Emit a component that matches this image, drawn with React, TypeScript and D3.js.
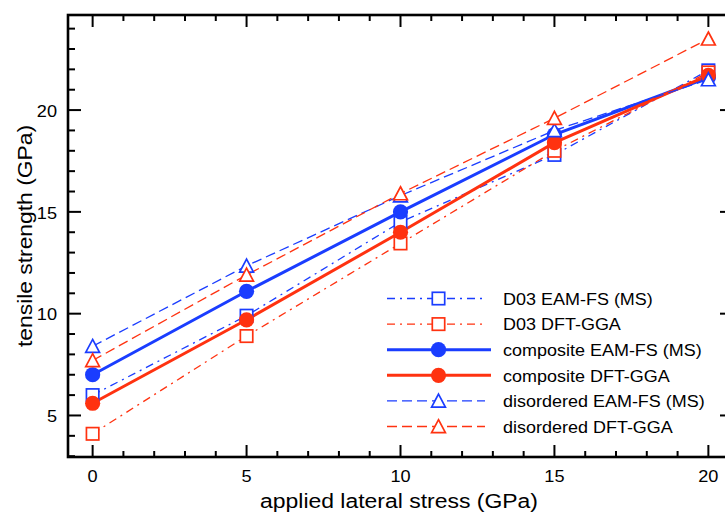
import React from 'react';
import * as d3 from 'd3';

const stress = [0, 5, 10, 15, 20];
const d03Eam = [6.0, 9.9, 14.5, 17.8, 21.95];
const d03Dft = [4.1, 8.9, 13.45, 18.0, 21.85];
const compEam = [7.0, 11.1, 15.0, 18.8, 21.6];
const compDft = [5.6, 9.7, 14.0, 18.4, 21.7];
const disEam = [8.4, 12.35, 15.8, 19.0, 21.5];
const disDft = [7.7, 11.9, 15.9, 19.6, 23.5];
const xTicks = [0, 5, 10, 15, 20];
const yTicks = [5, 10, 15, 20];
const seriesNames = [
  'D03 EAM-FS (MS)',
  'D03 DFT-GGA',
  'composite EAM-FS (MS)',
  'composite DFT-GGA',
  'disordered EAM-FS (MS)',
  'disordered DFT-GGA',
];
const xLabel = 'applied lateral stress (GPa)';
const yLabel = 'tensile strength (GPa)';

const BLUE = '#1a3dff';
const RED = '#ff3210';
const FONT = '"Liberation Sans", Arial, Helvetica, sans-serif';

type Style = { color: string; marker: 'square' | 'circle' | 'triangle'; dash: string; width: number };
const styles: Style[] = [
  { color: BLUE, marker: 'square', dash: '8,5,2,5', width: 1.3 },
  { color: RED, marker: 'square', dash: '8,5,2,5', width: 1.3 },
  { color: BLUE, marker: 'circle', dash: '', width: 3 },
  { color: RED, marker: 'circle', dash: '', width: 3 },
  { color: BLUE, marker: 'triangle', dash: '10,5', width: 1.3 },
  { color: RED, marker: 'triangle', dash: '10,5', width: 1.3 },
];
const allSeries = [d03Eam, d03Dft, compEam, compDft, disEam, disDft];

const L = 68, R = 733, T = 15, B = 457;

function Marker({ x, y, s }: { x: number; y: number; s: Style }) {
  if (s.marker === 'circle') return <circle cx={x} cy={y} r={7.6} fill={s.color} />;
  if (s.marker === 'square')
    return <rect x={x - 6.2} y={y - 6.2} width={12.4} height={12.4} fill="white" stroke={s.color} strokeWidth={1.7} />;
  const p = `M${x},${y - 6.8}L${x + 6.9},${y + 6.2}L${x - 6.9},${y + 6.2}Z`;
  return <path d={p} fill="white" stroke={s.color} strokeWidth={1.7} strokeLinejoin="miter" />;
}

function SText({ x, y, anchor, size, sx, central, children }:
  { x: number; y: number; anchor?: string; size: number; sx: number; central?: boolean; children: any }) {
  return (
    <text transform={`translate(${x},${y}) scale(${sx},1)`} textAnchor={anchor || 'start'}
      dominantBaseline={central ? 'central' : undefined} fontFamily={FONT} fontSize={size} fill="black">
      {children}
    </text>
  );
}

export default function App() {
  const x = d3.scaleLinear().domain([-0.8, 20.8]).range([L, R]);
  const y = d3.scaleLinear().domain([2.96, 24.67]).range([B, T]);
  const line = d3.line<number>().x((_, i) => x(stress[i])).y((d) => y(d));
  const xMinor = d3.range(0, 21, 1);
  const yMinor = d3.range(3, 25, 1);

  const legendY = (i: number) => 298.5 + i * 25.6;

  return (
    <svg width={725} height={513} style={{ position: 'absolute', left: 0, top: 0, background: 'white' }}>
      {allSeries.map((vals, i) => (
        <path key={'l' + i} d={line(vals) || ''} fill="none" stroke={styles[i].color}
          strokeWidth={styles[i].width} strokeDasharray={styles[i].dash || undefined} />
      ))}
      {allSeries.map((vals, i) => (
        <g key={'m' + i}>
          {vals.map((v, j) => <Marker key={j} x={x(stress[j])} y={y(v)} s={styles[i]} />)}
        </g>
      ))}
      <g stroke="black" strokeWidth={2}>
        {xMinor.map((t) => {
          const major = t % 5 === 0;
          const len = major ? 12 : 6;
          return (
            <g key={'xt' + t}>
              <line x1={x(t)} x2={x(t)} y1={B} y2={B - len} />
              <line x1={x(t)} x2={x(t)} y1={T} y2={T + len} />
            </g>
          );
        })}
        {yMinor.map((t) => {
          const major = t % 5 === 0;
          const len = major ? 13 : 7;
          return (
            <g key={'yt' + t}>
              <line x1={L} x2={L + len} y1={y(t)} y2={y(t)} />
              <line x1={R} x2={R - len} y1={y(t)} y2={y(t)} />
            </g>
          );
        })}
      </g>
      <rect x={L} y={T} width={R - L} height={B - T} fill="none" stroke="black" strokeWidth={2.6} />
      {xTicks.map((t) => (
        <SText key={'xl' + t} x={x(t)} y={482} anchor="middle" size={16.5} sx={1.1}>{t}</SText>
      ))}
      {yTicks.map((t) => (
        <SText key={'yl' + t} x={57} y={y(t) + 1} anchor="end" size={16.5} sx={1.1} central>{t}</SText>
      ))}
      <text x={399} y={507.5} textAnchor="middle" fontFamily={FONT} fontSize={20}
        textLength={278} lengthAdjust="spacingAndGlyphs">{xLabel}</text>
      <text transform={`translate(32,236) rotate(-90)`} textAnchor="middle" fontFamily={FONT} fontSize={20}
        textLength={222} lengthAdjust="spacingAndGlyphs">{yLabel}</text>
      {seriesNames.map((name, i) => {
        const s = styles[i];
        const ly = legendY(i);
        return (
          <g key={'lg' + i}>
            <line x1={387} x2={s.dash ? 485 : 491} y1={ly} y2={ly} stroke={s.color} strokeWidth={s.width}
              strokeDasharray={s.dash || undefined} />
            <Marker x={438.5} y={ly} s={s} />
            <SText x={503} y={ly + 0.5} size={16.5} sx={1.09} central>{name}</SText>
          </g>
        );
      })}
    </svg>
  );
}
